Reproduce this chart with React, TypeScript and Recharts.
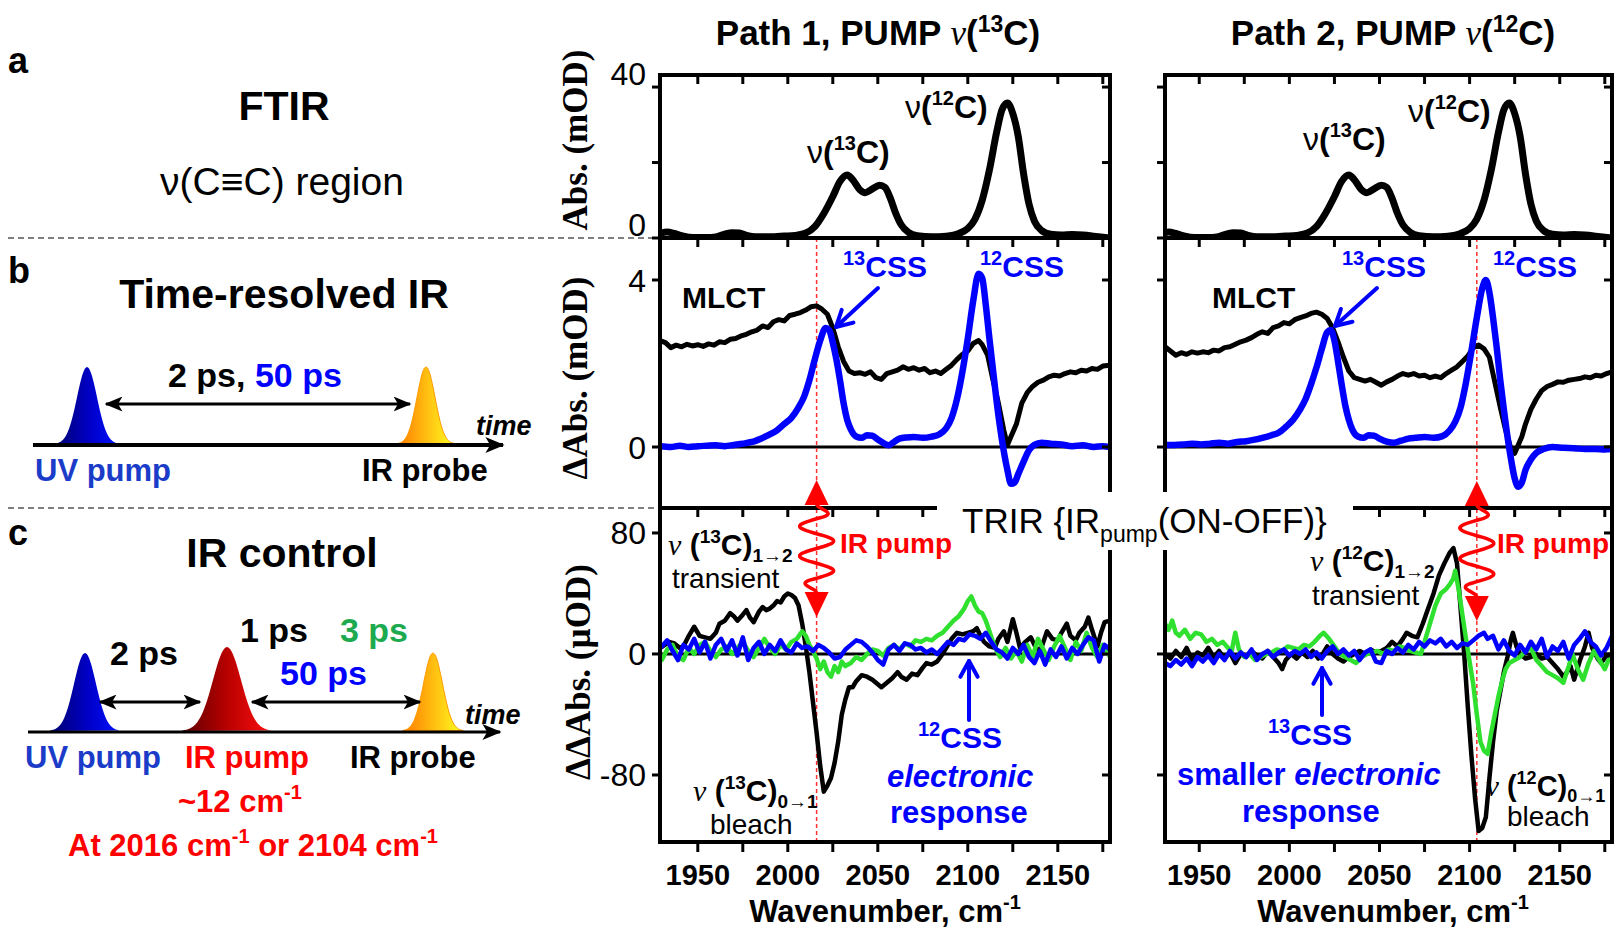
import React from "react";
import { LineChart, Line, XAxis, YAxis, ReferenceLine } from "recharts";

const SANS = "'Liberation Sans', Arial, Helvetica, sans-serif";
const SERIF = "'Liberation Serif', 'Times New Roman', Times, serif";

// ---------- data (wavenumber, value) ----------
const xTicks = [1950, 1975, 2000, 2025, 2050, 2075, 2100, 2125, 2150, 2175];

const ftir: [number, number][] = [
  [1929, 1.2], [1933, 1.6], [1937, 1.2], [1941, 0.6], [1945, 0.2], [1950, 0.1], [1955, 0.1], [1960, 0.3],
  [1965, 1.0], [1969, 1.4], [1973, 1.3], [1977, 0.7], [1982, 0.3], [1990, 0.3], [1998, 0.5], [2004, 0.7],
  [2010, 1.3], [2015, 3.0], [2020, 6.5], [2025, 11], [2029, 15], [2033, 16.7], [2036, 15.5], [2040, 12.8],
  [2043, 12.0], [2047, 13.0], [2051, 14.0], [2054, 13.4], [2057, 10.5], [2060, 6.5], [2063, 3.5], [2067, 1.5],
  [2072, 0.6], [2080, 0.3], [2088, 0.5], [2095, 1.2], [2100, 2.5], [2104, 5], [2108, 10], [2112, 18],
  [2116, 28], [2119, 34], [2122, 35.8], [2125, 33], [2128, 27], [2131, 17], [2134, 9], [2137, 4.5],
  [2141, 2.0], [2146, 1.0], [2152, 0.8], [2158, 0.9], [2164, 0.8], [2170, 0.5], [2175, 0.2], [2179, 0.0],
];

const trBlack1: [number, number][] = [
  [1929, 2.55], [1932, 2.5], [1935, 2.38], [1938, 2.44], [1941, 2.4], [1944, 2.46], [1947, 2.42], [1950, 2.45],
  [1953, 2.41], [1956, 2.47], [1959, 2.44], [1962, 2.52], [1965, 2.5], [1968, 2.58], [1971, 2.6], [1974, 2.66],
  [1977, 2.7], [1980, 2.76], [1983, 2.8], [1986, 2.9], [1989, 2.86], [1992, 3.0], [1995, 3.05], [1998, 3.02],
  [2001, 3.15], [2004, 3.18], [2007, 3.22], [2010, 3.28], [2013, 3.36], [2016, 3.38], [2019, 3.3], [2022, 3.18],
  [2025, 2.85], [2028, 2.4], [2031, 2.05], [2034, 1.82], [2037, 1.76], [2040, 1.78], [2043, 1.74], [2046, 1.8],
  [2049, 1.66], [2052, 1.62], [2055, 1.76], [2058, 1.8], [2061, 1.84], [2064, 1.92], [2067, 1.86], [2070, 1.9],
  [2073, 1.84], [2076, 1.88], [2079, 1.78], [2082, 1.82], [2085, 1.76], [2088, 1.86], [2091, 1.96], [2094, 2.1],
  [2097, 2.22], [2100, 2.3], [2103, 2.48], [2106, 2.55], [2108, 2.45], [2111, 2.2], [2114, 1.6], [2117, 1.05],
  [2120, 0.4], [2122, 0.05], [2124, 0.25], [2127, 0.55], [2130, 1.05], [2133, 1.3], [2136, 1.45], [2139, 1.55],
  [2142, 1.6], [2145, 1.68], [2148, 1.72], [2151, 1.7], [2154, 1.76], [2157, 1.8], [2160, 1.78], [2163, 1.84],
  [2166, 1.82], [2169, 1.88], [2172, 1.86], [2175, 1.94], [2179, 1.96],
];

const trBlue1: [number, number][] = [
  [1929, 0.02], [1935, 0.0], [1940, 0.03], [1945, 0.0], [1950, 0.02], [1955, 0.03], [1960, 0.04], [1965, 0.02],
  [1970, 0.05], [1975, 0.08], [1980, 0.12], [1985, 0.2], [1990, 0.3], [1994, 0.4], [1998, 0.55], [2002, 0.7],
  [2006, 0.95], [2009, 1.2], [2012, 1.6], [2015, 2.1], [2018, 2.55], [2021, 2.85], [2023, 2.8], [2025, 2.5],
  [2027, 2.1], [2029, 1.6], [2031, 1.05], [2033, 0.65], [2035, 0.42], [2038, 0.25], [2041, 0.22], [2044, 0.28],
  [2047, 0.27], [2050, 0.18], [2053, 0.1], [2056, 0.04], [2059, 0.12], [2062, 0.2], [2066, 0.23], [2070, 0.24],
  [2075, 0.22], [2080, 0.25], [2084, 0.3], [2088, 0.45], [2091, 0.7], [2094, 1.15], [2097, 1.8], [2100, 2.6],
  [2103, 3.5], [2106, 4.15], [2108, 4.05], [2110, 3.4], [2112, 2.6], [2114, 1.85], [2116, 1.1], [2118, 0.45],
  [2120, -0.1], [2122, -0.55], [2124, -0.88], [2126, -0.85], [2128, -0.65], [2131, -0.35], [2134, -0.08],
  [2137, 0.05], [2141, 0.1], [2146, 0.08], [2152, 0.06], [2158, 0.02], [2164, 0.04], [2170, 0.0], [2175, 0.02],
  [2179, 0.0],
];

const trBlack2: [number, number][] = [
  [1931, 2.4], [1934, 2.3], [1937, 2.2], [1940, 2.26], [1943, 2.22], [1946, 2.28], [1949, 2.25], [1952, 2.28],
  [1955, 2.26], [1958, 2.32], [1961, 2.3], [1964, 2.38], [1967, 2.4], [1970, 2.46], [1973, 2.52], [1976, 2.56],
  [1979, 2.62], [1982, 2.7], [1985, 2.76], [1988, 2.72], [1991, 2.86], [1994, 2.9], [1997, 2.98], [2000, 2.95],
  [2003, 3.05], [2006, 3.1], [2009, 3.14], [2012, 3.2], [2015, 3.23], [2018, 3.18], [2021, 3.08], [2024, 2.85],
  [2027, 2.52], [2030, 2.15], [2033, 1.82], [2036, 1.66], [2039, 1.62], [2042, 1.58], [2045, 1.62], [2048, 1.55],
  [2051, 1.48], [2054, 1.56], [2057, 1.62], [2060, 1.7], [2063, 1.76], [2066, 1.72], [2069, 1.76], [2072, 1.7],
  [2075, 1.72], [2078, 1.66], [2081, 1.7], [2084, 1.66], [2087, 1.76], [2090, 1.84], [2093, 1.92], [2096, 2.05],
  [2099, 2.18], [2102, 2.38], [2105, 2.44], [2108, 2.35], [2111, 2.15], [2114, 1.55], [2117, 0.95], [2120, 0.4],
  [2123, -0.05], [2125, -0.15], [2127, 0.05], [2129, 0.25], [2131, 0.55], [2134, 0.9], [2137, 1.15], [2140, 1.35],
  [2143, 1.45], [2146, 1.5], [2149, 1.56], [2152, 1.55], [2155, 1.6], [2158, 1.62], [2161, 1.64], [2164, 1.68],
  [2167, 1.66], [2170, 1.72], [2173, 1.7], [2176, 1.76], [2179, 1.8],
];

const trBlue2: [number, number][] = [
  [1931, 0.05], [1936, 0.05], [1941, 0.06], [1946, 0.08], [1951, 0.06], [1956, 0.08], [1961, 0.1], [1966, 0.08],
  [1971, 0.12], [1976, 0.14], [1980, 0.17], [1985, 0.22], [1990, 0.28], [1994, 0.34], [1998, 0.48], [2002, 0.65],
  [2006, 0.9], [2009, 1.15], [2012, 1.5], [2015, 1.9], [2018, 2.35], [2021, 2.75], [2023, 2.8], [2025, 2.55],
  [2027, 2.05], [2029, 1.5], [2031, 1.0], [2033, 0.65], [2035, 0.41], [2038, 0.25], [2041, 0.22], [2044, 0.28],
  [2047, 0.27], [2050, 0.2], [2054, 0.13], [2058, 0.1], [2062, 0.15], [2066, 0.2], [2070, 0.22], [2075, 0.24],
  [2080, 0.22], [2085, 0.26], [2089, 0.4], [2092, 0.6], [2095, 0.95], [2098, 1.55], [2101, 2.3], [2104, 3.1],
  [2107, 3.8], [2109, 4.0], [2111, 3.7], [2113, 3.1], [2115, 2.4], [2117, 1.6], [2119, 0.9], [2121, 0.25],
  [2123, -0.3], [2125, -0.75], [2127, -0.95], [2129, -0.85], [2131, -0.55], [2134, -0.3], [2137, -0.14],
  [2141, -0.05], [2146, 0.0], [2152, -0.02], [2158, -0.03], [2164, -0.05], [2170, -0.05], [2175, -0.06], [2179, -0.05],
];

const ddBlack1: [number, number][] = [
  [1930, 4.6], [1934, 8], [1937, 7], [1940, 4], [1942, 5], [1945, 12], [1948, 18], [1951, 12], [1954, 11],
  [1957, 10], [1960, 14], [1962, 20], [1965, 22], [1968, 27], [1970, 25], [1972, 22], [1975, 26], [1977, 29],
  [1979, 24], [1981, 21], [1984, 28], [1986, 31], [1988, 29], [1990, 30], [1992, 32], [1994, 35], [1996, 34],
  [1998, 38], [2000, 40], [2002, 39], [2004, 37], [2006, 32], [2008, 20], [2010, 5], [2012, -12], [2014, -32],
  [2016, -52], [2018, -74], [2020, -91], [2022, -87], [2024, -82], [2026, -72], [2028, -58], [2030, -40],
  [2032, -30], [2034, -22], [2036, -22], [2038, -18], [2041, -14], [2044, -15], [2047, -17], [2050, -20],
  [2052, -22], [2055, -19], [2058, -16], [2061, -12], [2063, -15], [2066, -17], [2069, -13], [2072, -14],
  [2075, -9], [2077, -6], [2080, -7], [2083, -5], [2086, 0], [2088, 4], [2091, 10], [2094, 14], [2097, 13],
  [2100, 14], [2103, 15], [2105, 17], [2107, 12], [2109, 8], [2112, 5], [2115, 4], [2117, 10], [2120, 15],
  [2122, 8], [2125, 23], [2127, 14], [2129, 4], [2132, 8], [2135, 11], [2137, 6], [2140, 1], [2142, 8],
  [2144, 15], [2147, 10], [2150, 9], [2152, 14], [2155, 20], [2157, 12], [2160, 9], [2162, 14], [2165, 18],
  [2167, 24], [2169, 16], [2172, 5], [2174, 14], [2176, 21], [2179, 22],
];

const ddGreen1: [number, number][] = [
  [1930, -4], [1933, 3], [1936, 6], [1939, -2], [1942, -4], [1945, 4], [1948, 0], [1951, 6], [1954, 8],
  [1957, 2], [1960, -2], [1963, 3], [1966, 5], [1969, 0], [1972, 4], [1975, 8], [1978, 2], [1981, -2],
  [1984, 4], [1987, 10], [1990, 4], [1993, 0], [1996, 6], [1999, 3], [2002, 8], [2005, 10], [2008, 15],
  [2010, 12], [2012, 6], [2014, 2], [2016, -3], [2018, -10], [2020, -5], [2022, -12], [2024, -15], [2026, -8],
  [2028, -12], [2030, -5], [2032, -8], [2035, -6], [2038, -2], [2041, -4], [2044, 0], [2047, 3], [2050, 2],
  [2053, -1], [2056, 4], [2059, 6], [2062, 3], [2065, 7], [2068, 5], [2071, 9], [2074, 8], [2077, 10],
  [2080, 9], [2083, 12], [2086, 14], [2089, 18], [2092, 22], [2095, 25], [2098, 30], [2100, 35], [2102, 38],
  [2104, 32], [2106, 28], [2108, 27], [2110, 22], [2112, 15], [2114, 8], [2116, 2], [2118, -2], [2121, 4],
  [2124, -3], [2127, 2], [2130, -5], [2133, 6], [2136, -2], [2139, 10], [2142, 3], [2145, -4], [2148, 5],
  [2151, 12], [2154, 4], [2157, -4], [2160, 8], [2163, 2], [2166, 14], [2169, 4], [2172, -2], [2175, 6], [2179, -2],
];

const ddBlue1: [number, number][] = [
  [1930, 5], [1933, 9], [1936, 2], [1939, -4], [1942, 6], [1945, 3], [1948, 10], [1951, 1], [1954, 8],
  [1957, -3], [1960, 6], [1963, 10], [1966, 2], [1969, 9], [1972, -1], [1975, 11], [1978, -4], [1981, 4],
  [1984, 8], [1987, 0], [1990, 6], [1993, 2], [1996, 9], [1999, 3], [2002, 1], [2005, 7], [2008, 4],
  [2011, 5], [2014, 2], [2017, 6], [2020, 4], [2023, 1], [2026, -3], [2029, -2], [2032, 3], [2035, 6],
  [2038, 9], [2041, 8], [2044, 5], [2047, 1], [2050, -4], [2053, -7], [2056, 3], [2059, 6], [2062, 2],
  [2065, 7], [2068, 6], [2071, 3], [2074, 4], [2077, 1], [2080, 3], [2083, 0], [2086, 4], [2089, 8],
  [2092, 6], [2095, 10], [2098, 9], [2101, 13], [2104, 12], [2107, 10], [2110, 14], [2113, 8], [2116, 3],
  [2119, 1], [2122, -3], [2125, 4], [2128, 0], [2131, 6], [2134, -2], [2137, -6], [2140, 2], [2143, -7],
  [2146, 3], [2149, -2], [2152, 5], [2155, -3], [2158, 4], [2161, 0], [2164, 6], [2167, 11], [2170, 9],
  [2173, -5], [2176, 6], [2179, 3],
];

const ddBlack2: [number, number][] = [
  [1931, 0], [1934, -3], [1937, 2], [1940, -2], [1943, 4], [1946, -4], [1949, 1], [1952, -1], [1955, 4],
  [1958, -2], [1961, 2], [1964, -3], [1967, 1], [1970, -6], [1973, 0], [1976, -2], [1979, 2], [1982, -1],
  [1985, -3], [1988, 2], [1991, -2], [1994, -6], [1996, -10], [1998, -4], [2001, 0], [2004, -3], [2007, 1],
  [2010, -2], [2013, 2], [2016, -3], [2019, 1], [2021, 5], [2024, 0], [2027, -3], [2030, -5], [2033, -2],
  [2036, 0], [2039, 2], [2042, 0], [2045, 3], [2048, 1], [2051, 2], [2054, 4], [2057, 8], [2060, 5],
  [2063, 10], [2065, 14], [2068, 12], [2071, 11], [2074, 20], [2077, 30], [2080, 40], [2083, 52], [2086, 60],
  [2089, 67], [2091, 70], [2093, 60], [2095, 30], [2097, 0], [2099, -35], [2101, -67], [2103, -95],
  [2105, -117], [2107, -115], [2109, -108], [2111, -82], [2113, -58], [2115, -38], [2117, -25], [2119, -12],
  [2121, -2], [2123, 10], [2124, 14], [2126, 5], [2128, 0], [2131, -3], [2134, -2], [2137, 0], [2140, -3],
  [2143, -2], [2146, -6], [2149, -10], [2152, -15], [2154, -12], [2156, -8], [2158, -17], [2161, -5],
  [2164, 5], [2166, 14], [2168, 4], [2171, -3], [2173, -6], [2176, -1], [2179, -2],
];

const ddGreen2: [number, number][] = [
  [1931, 20], [1933, 16], [1935, 22], [1937, 14], [1939, 12], [1942, 16], [1945, 10], [1948, 14], [1951, 13],
  [1954, 8], [1957, 10], [1960, 6], [1963, 8], [1966, 4], [1968, 2], [1970, 14], [1972, 3], [1975, -2],
  [1978, 0], [1981, -4], [1984, -2], [1987, 0], [1990, 1], [1993, 3], [1996, 2], [1999, 5], [2002, 4],
  [2005, 3], [2008, 6], [2011, 5], [2014, 8], [2017, 12], [2019, 14], [2022, 10], [2025, 5], [2028, 0],
  [2031, -2], [2034, -4], [2037, -6], [2040, -2], [2043, 0], [2046, 1], [2049, 2], [2052, 0], [2055, 3],
  [2058, 2], [2061, 5], [2064, 4], [2067, 2], [2070, 1], [2073, 0], [2075, 8], [2078, 20], [2081, 32],
  [2084, 40], [2087, 43], [2089, 46], [2091, 50], [2092, 55], [2094, 42], [2096, 26], [2098, 10], [2100, -5],
  [2102, -20], [2104, -40], [2106, -58], [2108, -64], [2110, -66], [2112, -52], [2114, -40], [2116, -28],
  [2118, -18], [2120, -10], [2122, -6], [2125, -4], [2128, -2], [2131, 2], [2134, 4], [2137, -4], [2140, -8],
  [2143, -12], [2146, -14], [2149, -16], [2152, -19], [2155, -8], [2157, 0], [2160, -10], [2163, -17],
  [2166, -6], [2169, 2], [2172, -4], [2175, -10], [2177, -4], [2179, -3],
];

const ddBlue2: [number, number][] = [
  [1931, -6], [1934, -8], [1937, -4], [1940, -7], [1943, -3], [1946, -8], [1949, -2], [1952, -5], [1955, -1],
  [1958, -6], [1961, 0], [1964, -4], [1967, 2], [1970, -3], [1973, 1], [1976, -2], [1979, 3], [1982, -4],
  [1985, 0], [1988, 2], [1991, -2], [1994, 1], [1997, 3], [2000, -1], [2003, 2], [2006, 0], [2009, 3],
  [2012, -2], [2015, 1], [2018, -3], [2021, 2], [2024, 5], [2027, 0], [2030, 3], [2033, -1], [2036, 2],
  [2039, -4], [2042, 1], [2045, 3], [2048, -5], [2051, -6], [2054, 2], [2057, 0], [2060, 4], [2063, 1],
  [2066, 6], [2069, 3], [2072, 8], [2075, 5], [2078, 9], [2081, 7], [2084, 10], [2087, 5], [2090, 8],
  [2093, 4], [2096, 7], [2099, 6], [2102, 9], [2105, 12], [2108, 14], [2110, 10], [2113, 12], [2116, 3],
  [2119, 9], [2122, 2], [2125, -1], [2128, 6], [2131, 1], [2134, 8], [2137, 3], [2140, 10], [2143, -2],
  [2146, 5], [2149, 2], [2152, 8], [2155, -3], [2158, 6], [2161, 10], [2164, 15], [2167, 8], [2170, 5],
  [2173, -1], [2176, 4], [2179, 12],
];

const pumpWn = [2016, 2104];

// ---------- layout ----------
const COLS = [
  { left: 660, right: 1110, domain: [1929, 2179] as [number, number] },
  { left: 1165, right: 1612, domain: [1931, 2179] as [number, number] },
];
const ROWS: Record<string, { top: number; bottom: number; domain: [number, number]; ticks: number[]; labelDy: number }> = {
  a: { top: 75, bottom: 238, domain: [0, 43.2], ticks: [0, 20, 40], labelDy: -2 },
  b: { top: 238, bottom: 508, domain: [-1.461, 5.006], ticks: [0, 4], labelDy: 11.5 },
  c: { top: 508, bottom: 842, domain: [-124.3, 96.5], ticks: [-80, 0, 80], labelDy: 11.5 },
};

const BLUE = "#0000ff";
const GREEN = "#2fe02f";
const RED = "#ff0000";

const pts = (arr: [number, number][]) => arr.map(([w, v]) => ({ w, v }));
const colX = (col: number, w: number) => {
  const c = COLS[col];
  return c.left + ((w - c.domain[0]) / (c.domain[1] - c.domain[0])) * (c.right - c.left);
};
const rowY = (row: string, v: number) => {
  const r = ROWS[row];
  return r.top + ((r.domain[1] - v) / (r.domain[1] - r.domain[0])) * (r.bottom - r.top);
};

type Series = { data: [number, number][]; color: string; width: number; smooth?: boolean };

function Panel({ col, row, series, yLabels, bottomAxis, zero, refX }: {
  col: number; row: string; series: Series[]; yLabels?: Record<number, string>;
  bottomAxis?: boolean; zero?: boolean; refX?: number;
}) {
  const c = COLS[col];
  const r = ROWS[row];
  const ML = 100, MT = 20, MR = 20, MB = 4;
  const XH = bottomAxis ? 70 : 0;
  const width = ML + (c.right - c.left) + MR;
  const height = MT + (r.bottom - r.top) + XH + MB;
  return (
    <div style={{ position: "absolute", left: c.left - ML, top: r.top - MT }}>
      <LineChart width={width} height={height} margin={{ top: MT, right: MR, bottom: MB, left: 0 }}>
        <XAxis
          xAxisId="b" dataKey="w" type="number" domain={c.domain} allowDataOverflow ticks={xTicks} interval={0}
          hide={!bottomAxis} height={XH} tickSize={10} axisLine={false} tickLine={false}
          tick={(p: any) =>
            p.payload.value % 50 === 0 ? (
              <text x={p.x} y={p.y + 31} textAnchor="middle" fontFamily={SANS} fontWeight="bold" fontSize={29} fill="#000">
                {p.payload.value}
              </text>
            ) : <g />
          }
        />
        <YAxis
          yAxisId="l" type="number" domain={r.domain} allowDataOverflow ticks={r.ticks} interval={0} width={ML}
          tickSize={8} axisLine={false} tickLine={false}
          tick={(p: any) =>
            yLabels && yLabels[p.payload.value] !== undefined ? (
              <text x={p.x - 4} y={p.y + r.labelDy} textAnchor="end" fontFamily={SANS} fontSize={32} fill="#000">
                {yLabels[p.payload.value]}
              </text>
            ) : <g />
          }
        />
        {zero && <ReferenceLine xAxisId="b" yAxisId="l" y={0} stroke="#000" strokeWidth={3} />}
        {refX !== undefined && (
          <ReferenceLine xAxisId="b" yAxisId="l" x={refX} stroke="#ff3030" strokeWidth={1.5} strokeDasharray="4 3" />
        )}
        {series.map((s, i) => (
          <Line
            key={i} xAxisId="b" yAxisId="l" data={pts(s.data)} dataKey="v" type={s.smooth ? "monotone" : "linear"}
            stroke={s.color} strokeWidth={s.width} dot={false} activeDot={false} isAnimationActive={false}
            strokeLinejoin="round" strokeLinecap="round"
          />
        ))}
      </LineChart>
    </div>
  );
}

// ---------- frame (borders + tick marks, positioned from the same scales) ----------
function Frame() {
  const k = { stroke: "#000", strokeWidth: 3 };
  const els: React.ReactNode[] = [];
  COLS.forEach((c, ci) => {
    const top = ROWS.a.top, bottom = ROWS.c.bottom;
    els.push(<line key={`l${ci}`} x1={c.left} y1={top - 2} x2={c.left} y2={bottom + 2} stroke="#000" strokeWidth={4} />);
    els.push(<line key={`r${ci}`} x1={c.right} y1={top - 2} x2={c.right} y2={bottom + 2} stroke="#000" strokeWidth={4} />);
    ["a", "b", "c"].forEach((rk) => {
      const r = ROWS[rk];
      els.push(<line key={`t${ci}${rk}`} x1={c.left} y1={r.top} x2={c.right} y2={r.top} stroke="#000" strokeWidth={4} />);
      xTicks.forEach((w) => {
        const x = colX(ci, w);
        els.push(<line key={`tt${ci}${rk}${w}`} x1={x} y1={r.top} x2={x} y2={r.top + 9} {...k} />);
      });
      r.ticks.forEach((v) => {
        const y = rowY(rk, v);
        els.push(<line key={`yl${ci}${rk}${v}`} x1={c.left - 8} y1={y} x2={c.left} y2={y} {...k} />);
        els.push(<line key={`yr${ci}${rk}${v}`} x1={c.right - 8} y1={y} x2={c.right} y2={y} {...k} />);
      });
    });
    els.push(<line key={`b${ci}`} x1={c.left} y1={bottom} x2={c.right} y2={bottom} stroke="#000" strokeWidth={4} />);
    xTicks.forEach((w) => {
      const x = colX(ci, w);
      els.push(<line key={`bt${ci}${w}`} x1={x} y1={bottom} x2={x} y2={bottom + 10} {...k} />);
    });
  });
  return <g>{els}</g>;
}

// ---------- schematic helpers ----------
function pulse(cx: number, base: number, h: number, s: number) {
  let d = `M ${cx - 3.2 * s} ${base}`;
  for (let i = -32; i <= 32; i++) {
    const x = cx + (i * s) / 10;
    d += ` L ${x.toFixed(1)} ${(base - h * Math.exp(-((i / 10) ** 2) / 2)).toFixed(1)}`;
  }
  return d + " Z";
}

function wave(x: number, y0: number, y1: number) {
  let d = `M ${x} ${y0}`;
  const n = 90;
  for (let i = 1; i <= n; i++) {
    const t = i / n;
    const taper = Math.min(1, t * 7, (1 - t) * 7);
    d += ` L ${(x + 17 * taper * Math.sin(2 * Math.PI * 3 * t)).toFixed(1)} ${(y0 + (y1 - y0) * t).toFixed(1)}`;
  }
  return d;
}

function IRPumpArrow({ x, upTip, downTip }: { x: number; upTip: number; downTip: number }) {
  return (
    <g>
      <polygon points={`${x},${upTip} ${x - 12},${upTip + 25} ${x + 12},${upTip + 25}`} fill={RED} />
      <path d={wave(x, upTip + 24, downTip - 24)} stroke={RED} strokeWidth={3.5} fill="none" />
      <polygon points={`${x},${downTip} ${x - 12},${downTip - 25} ${x + 12},${downTip - 25}`} fill={RED} />
    </g>
  );
}

function Chevron({ x1, y1, x2, y2, color }: { x1: number; y1: number; x2: number; y2: number; color: string }) {
  const a = Math.atan2(y2 - y1, x2 - x1);
  const L = 18, sp = 0.5;
  const w1 = `${x2 - L * Math.cos(a - sp)},${y2 - L * Math.sin(a - sp)}`;
  const w2 = `${x2 - L * Math.cos(a + sp)},${y2 - L * Math.sin(a + sp)}`;
  return (
    <g stroke={color} strokeWidth={4} fill="none" strokeLinecap="round" strokeLinejoin="round">
      <line x1={x1} y1={y1} x2={x2} y2={y2} />
      <polyline points={`${w1} ${x2},${y2} ${w2}`} />
    </g>
  );
}

const Nu = ({ italic }: { italic?: boolean }) =>
  italic ? <tspan fontFamily={SERIF} fontStyle="italic" fontWeight="normal">ν</tspan> : <tspan fontWeight="normal">ν</tspan>;

function Iso({ x, y, mass, sub, italic, size = 30 }: { x: number; y: number; mass: string; sub?: string; italic?: boolean; size?: number }) {
  const s = Math.round(size * 0.63);
  return (
    <text x={x} y={y} fontFamily={SANS} fontWeight="bold" fontSize={size} fill="#000">
      <Nu italic={italic} />
      {italic ? " (" : "("}
      <tspan fontSize={s} dy={-size * 0.4}>{mass}</tspan>
      <tspan dy={size * 0.4}>C)</tspan>
      {sub && <tspan fontSize={s} dy={size * 0.22}>{sub}</tspan>}
    </text>
  );
}

function CSS({ x, y, mass }: { x: number; y: number; mass: string }) {
  return (
    <text x={x} y={y} fontFamily={SANS} fontWeight="bold" fontSize={30} fill={BLUE}>
      <tspan fontSize={20} dy={-12}>{mass}</tspan>
      <tspan dy={12}>CSS</tspan>
    </text>
  );
}

function Overlay() {
  const p1 = colX(0, pumpWn[0]);
  const p2 = colX(1, pumpWn[1]);
  const bold = { fontFamily: SANS, fontWeight: "bold" as const };
  return (
    <svg width={1619} height={932} style={{ position: "absolute", left: 0, top: 0, pointerEvents: "none" }}>
      <defs>
        <linearGradient id="gBlue" x1="0" y1="0" x2="1" y2="0">
          <stop offset="0" stopColor="#00006e" />
          <stop offset="0.55" stopColor="#0000c8" />
          <stop offset="1" stopColor="#0010ff" />
        </linearGradient>
        <linearGradient id="gRed" x1="0" y1="0" x2="1" y2="0">
          <stop offset="0" stopColor="#5e0000" />
          <stop offset="0.5" stopColor="#b80000" />
          <stop offset="1" stopColor="#ff1010" />
        </linearGradient>
        <linearGradient id="gOrange" x1="0" y1="0" x2="1" y2="0">
          <stop offset="0" stopColor="#ff7a00" />
          <stop offset="1" stopColor="#ffff20" />
        </linearGradient>
        <marker id="ah" viewBox="0 0 12 10" refX="11" refY="5" markerWidth="18" markerHeight="15"
          markerUnits="userSpaceOnUse" orient="auto-start-reverse">
          <path d="M0,0 L12,5 L0,10 L3,5 Z" fill="#000" />
        </marker>
        <marker id="ahBig" viewBox="0 0 12 10" refX="11" refY="5" markerWidth="20" markerHeight="16"
          markerUnits="userSpaceOnUse" orient="auto">
          <path d="M0,0 L12,5 L0,10 L3,5 Z" fill="#000" />
        </marker>
      </defs>

      {/* separators */}
      <line x1={8} y1={238} x2={656} y2={238} stroke="#555" strokeWidth={1.5} strokeDasharray="6 4" />
      <line x1={8} y1={508} x2={656} y2={508} stroke="#555" strokeWidth={1.5} strokeDasharray="6 4" />

      {/* panel letters + headings */}
      <text x={8} y={73} {...bold} fontSize={36}>a</text>
      <text x={8} y={283} {...bold} fontSize={36}>b</text>
      <text x={8} y={545} {...bold} fontSize={36}>c</text>
      <text x={284} y={120} textAnchor="middle" {...bold} fontSize={41}>FTIR</text>
      <text x={282} y={195} textAnchor="middle" fontFamily={SANS} fontSize={39}>ν(C≡C) region</text>
      <text x={284} y={308} textAnchor="middle" {...bold} fontSize={41}>Time-resolved IR</text>
      <text x={282} y={567} textAnchor="middle" {...bold} fontSize={41}>IR control</text>

      {/* schematic b */}
      <path d={pulse(87, 444, 77, 10)} fill="url(#gBlue)" />
      <path d={pulse(426, 444, 77, 9)} fill="url(#gOrange)" stroke="#ff9a00" strokeWidth={1} />
      <line x1={33} y1={445} x2={503} y2={445} stroke="#000" strokeWidth={4} markerEnd="url(#ahBig)" />
      <line x1={106} y1={404} x2={410} y2={404} stroke="#000" strokeWidth={3} markerStart="url(#ah)" markerEnd="url(#ah)" />
      <text x={168} y={387} {...bold} fontSize={34}>2 ps, <tspan fill={BLUE}>50 ps</tspan></text>
      <text x={476} y={435} {...bold} fontStyle="italic" fontSize={27}>time</text>
      <text x={35} y={481} {...bold} fontSize={31} fill="#1a3cc8">UV pump</text>
      <text x={362} y={481} {...bold} fontSize={31}>IR probe</text>

      {/* schematic c */}
      <path d={pulse(85, 731, 78, 11)} fill="url(#gBlue)" />
      <path d={pulse(227, 731, 84, 14)} fill="url(#gRed)" />
      <path d={pulse(433, 731, 78, 9.5)} fill="url(#gOrange)" stroke="#ff9a00" strokeWidth={1} />
      <line x1={28} y1={732} x2={500} y2={732} stroke="#000" strokeWidth={3} markerEnd="url(#ahBig)" />
      <line x1={100} y1={702} x2={200} y2={702} stroke="#000" strokeWidth={3} markerStart="url(#ah)" markerEnd="url(#ah)" />
      <line x1={252} y1={702} x2={420} y2={702} stroke="#000" strokeWidth={3} markerStart="url(#ah)" markerEnd="url(#ah)" />
      <text x={240} y={642} {...bold} fontSize={34}>1 ps</text>
      <text x={340} y={642} {...bold} fontSize={34} fill="#1daa4f">3 ps</text>
      <text x={110} y={665} {...bold} fontSize={34}>2 ps</text>
      <text x={280} y={685} {...bold} fontSize={34} fill={BLUE}>50 ps</text>
      <text x={465} y={724} {...bold} fontStyle="italic" fontSize={27}>time</text>
      <text x={25} y={768} {...bold} fontSize={31} fill="#1a3cc8">UV pump</text>
      <text x={185} y={768} {...bold} fontSize={31} fill={RED}>IR pump</text>
      <text x={350} y={768} {...bold} fontSize={31}>IR probe</text>
      <text x={178} y={812} {...bold} fontSize={31} fill={RED}>~12 cm<tspan fontSize={20} dy={-13}>-1</tspan></text>
      <text x={68} y={856} {...bold} fontSize={31} fill={RED}>
        At 2016 cm<tspan fontSize={20} dy={-13}>-1</tspan><tspan dy={13}> or 2104 cm</tspan><tspan fontSize={20} dy={-13}>-1</tspan>
      </text>

      {/* column titles */}
      <text x={878} y={45} textAnchor="middle" {...bold} fontSize={35}>
        {"Path 1, PUMP "}<tspan fontFamily={SERIF} fontStyle="italic" fontWeight="normal">ν</tspan>(<tspan fontSize={23} dy={-13}>13</tspan><tspan dy={13}>C)</tspan>
      </text>
      <text x={1393} y={45} textAnchor="middle" {...bold} fontSize={35}>
        {"Path 2, PUMP "}<tspan fontFamily={SERIF} fontStyle="italic" fontWeight="normal">ν</tspan>(<tspan fontSize={23} dy={-13}>12</tspan><tspan dy={13}>C)</tspan>
      </text>

      {/* y axis titles */}
      <text x={575} y={140} transform="rotate(-90 575 140)" textAnchor="middle" dominantBaseline="central"
        fontFamily={SERIF} fontWeight="bold" fontSize={35}>Abs. (mOD)</text>
      <text x={575} y={378} transform="rotate(-90 575 378)" textAnchor="middle" dominantBaseline="central"
        fontFamily={SERIF} fontWeight="bold" fontSize={35}>ΔAbs. (mOD)</text>
      <text x={578} y={672} transform="rotate(-90 578 672)" textAnchor="middle" dominantBaseline="central"
        fontFamily={SERIF} fontWeight="bold" fontSize={35}>ΔΔAbs. (µOD)</text>

      {/* x axis titles */}
      <text x={885} y={922} textAnchor="middle" {...bold} fontSize={31}>Wavenumber, cm<tspan fontSize={20} dy={-13}>-1</tspan></text>
      <text x={1393} y={922} textAnchor="middle" {...bold} fontSize={31}>Wavenumber, cm<tspan fontSize={20} dy={-13}>-1</tspan></text>

      <Frame />

      {/* panel a labels */}
      <Iso x={807} y={163} mass="13" size={32} />
      <Iso x={905} y={118} mass="12" size={32} />
      <Iso x={1303} y={150} mass="13" size={32} />
      <Iso x={1408} y={122} mass="12" size={32} />

      {/* panel b labels */}
      <text x={682} y={308} {...bold} fontSize={30}>MLCT</text>
      <text x={1212} y={308} {...bold} fontSize={30}>MLCT</text>
      <CSS x={843} y={277} mass="13" />
      <CSS x={980} y={277} mass="12" />
      <CSS x={1342} y={277} mass="13" />
      <CSS x={1493} y={277} mass="12" />
      <Chevron x1={878} y1={288} x2={836} y2={327} color={BLUE} />
      <Chevron x1={1377} y1={288} x2={1335} y2={326} color={BLUE} />

      {/* white box behind TRIR title */}
      <rect x={937} y={492} width={416} height={58} fill="#fff" />
      <text x={962} y={533} fontFamily={SANS} fontSize={35}>
        TRIR {"{"}IR<tspan fontSize={23} dy={9}>pump</tspan><tspan dy={-9}>(ON-OFF){"}"}</tspan>
      </text>

      {/* IR pump arrows */}
      <IRPumpArrow x={p1} upTip={480} downTip={617} />
      <IRPumpArrow x={p2} upTip={481} downTip={621} />
      <text x={840} y={553} {...bold} fontSize={28} fill={RED}>IR pump</text>
      <text x={1497} y={553} {...bold} fontSize={28} fill={RED}>IR pump</text>

      {/* panel c labels, col 1 */}
      <Iso x={668} y={555} mass="13" sub="1→2" italic size={30} />
      <text x={672} y={588} fontFamily={SANS} fontSize={28}>transient</text>
      <Iso x={693} y={801} mass="13" sub="0→1" italic size={30} />
      <text x={710} y={834} fontFamily={SANS} fontSize={28}>bleach</text>
      <Chevron x1={969} y1={720} x2={969} y2={661} color={BLUE} />
      <CSS x={918} y={748} mass="12" />
      <text x={887} y={787} {...bold} fontStyle="italic" fontSize={31} fill={BLUE}>electronic</text>
      <text x={890} y={823} {...bold} fontSize={31} fill={BLUE}>response</text>

      {/* panel c labels, col 2 */}
      <Iso x={1310} y={571} mass="12" sub="1→2" italic size={30} />
      <text x={1312} y={605} fontFamily={SANS} fontSize={28}>transient</text>
      <Iso x={1486} y={796} mass="12" sub="0→1" italic size={29} />
      <text x={1507} y={826} fontFamily={SANS} fontSize={28}>bleach</text>
      <Chevron x1={1322} y1={715} x2={1322} y2={668} color={BLUE} />
      <CSS x={1268} y={745} mass="13" />
      <text x={1177} y={785} {...bold} fontSize={31} fill={BLUE}>
        {"smaller "}<tspan fontStyle="italic">electronic</tspan>
      </text>
      <text x={1242} y={822} {...bold} fontSize={31} fill={BLUE}>response</text>
    </svg>
  );
}

export default function App() {
  return (
    <div style={{ position: "absolute", left: 0, top: 0, width: 1619, height: 932, background: "#fff", overflow: "hidden" }}>
      <Panel col={0} row="a" yLabels={{ 0: "0", 40: "40" }} series={[{ data: ftir, color: "#000", width: 7, smooth: true }]} />
      <Panel col={1} row="a" series={[{ data: ftir, color: "#000", width: 7, smooth: true }]} />
      <Panel col={0} row="b" yLabels={{ 0: "0", 4: "4" }} zero refX={pumpWn[0]}
        series={[{ data: trBlack1, color: "#000", width: 5 }, { data: trBlue1, color: BLUE, width: 6.5, smooth: true }]} />
      <Panel col={1} row="b" zero refX={pumpWn[1]}
        series={[{ data: trBlack2, color: "#000", width: 5 }, { data: trBlue2, color: BLUE, width: 6.5, smooth: true }]} />
      <Panel col={0} row="c" yLabels={{ 80: "80", 0: "0", [-80]: "-80" }} zero bottomAxis refX={pumpWn[0]}
        series={[
          { data: ddBlack1, color: "#000", width: 4.5 },
          { data: ddGreen1, color: GREEN, width: 4.5 },
          { data: ddBlue1, color: BLUE, width: 4.5 },
        ]} />
      <Panel col={1} row="c" zero bottomAxis refX={pumpWn[1]}
        series={[
          { data: ddBlack2, color: "#000", width: 4.5 },
          { data: ddGreen2, color: GREEN, width: 4.5 },
          { data: ddBlue2, color: BLUE, width: 4.5 },
        ]} />
      <Overlay />
    </div>
  );
}
